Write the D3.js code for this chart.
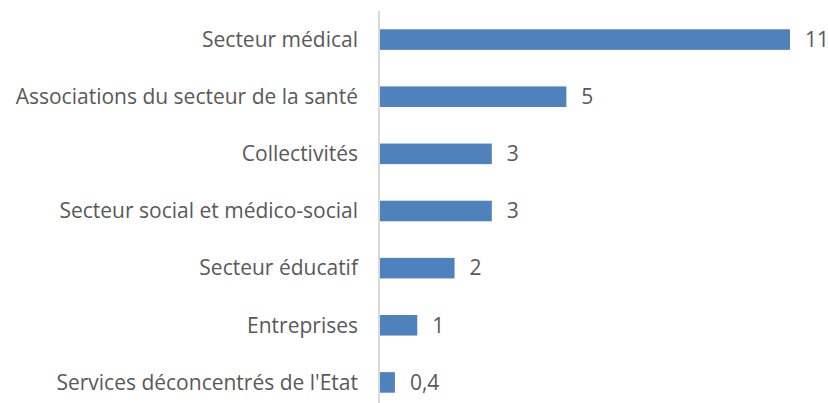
<!DOCTYPE html>
<html>
<head>
<meta charset="utf-8">
<script src="https://cdn.jsdelivr.net/npm/d3@7"></script>
<style>
  body { margin: 0; background: #fff; }
  text { font-family: "Open Sans", "Liberation Sans", sans-serif; fill: #595959; }
</style>
</head>
<body>
<svg id="chart" width="828" height="403"></svg>
<script>
var categories = ["Secteur médical", "Associations du secteur de la santé", "Collectivités",
  "Secteur social et médico-social", "Secteur éducatif", "Entreprises",
  "Services déconcentrés de l'Etat"];
var values = [11, 5, 3, 3, 2, 1, 0.4];
var valueLabels = ["11", "5", "3", "3", "2", "1", "0,4"];

var svg = d3.select("#chart");
var x0 = 380, xMax = 790;
var x = d3.scaleLinear().domain([0, 11]).range([x0, xMax]);
var y = d3.scaleBand().domain(categories).range([11, 411]).paddingInner(0.64).paddingOuter(0.32);

// bars
svg.selectAll("rect.bar")
  .data(values)
  .enter().append("rect")
  .attr("class", "bar")
  .attr("x", x(0))
  .attr("y", function(d, i) { return y(categories[i]); })
  .attr("width", function(d) { return x(d) - x(0); })
  .attr("height", y.bandwidth())
  .attr("fill", "#4f81bd");

// axis line
svg.append("line")
  .attr("x1", x0 - 1).attr("x2", x0 - 1)
  .attr("y1", 11).attr("y2", 403)
  .attr("stroke", "#d9d9d9")
  .attr("stroke-width", 2);

// category labels
svg.selectAll("text.cat")
  .data(categories)
  .enter().append("text")
  .attr("class", "cat")
  .attr("x", 358)
  .attr("y", function(d) { return y(d) + y.bandwidth() / 2; })
  .attr("dy", "0.35em")
  .attr("text-anchor", "end")
  .attr("font-size", "21px")
  .text(function(d) { return d; });

// value labels
svg.selectAll("text.val")
  .data(values)
  .enter().append("text")
  .attr("class", "val")
  .attr("x", function(d) { return x(d) + 15; })
  .attr("y", function(d, i) { return y(categories[i]) + y.bandwidth() / 2; })
  .attr("dy", "0.35em")
  .attr("font-size", "21px")
  .text(function(d, i) { return valueLabels[i]; });
</script>
</body>
</html>
